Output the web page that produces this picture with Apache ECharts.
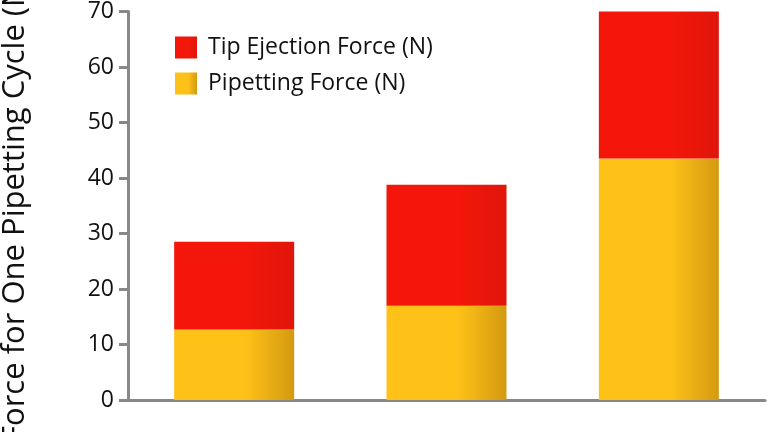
<!DOCTYPE html><html><head><meta charset="utf-8"><script src="https://cdn.jsdelivr.net/npm/echarts@6/dist/echarts.min.js"></script>
<style>body{margin:0}#c{width:768px;height:432px}</style></head><body><div id="c"></div><script>
const categories=['A','B','C'];
const pipetting=[12.7,17.0,43.5];
const ejection=[15.8,21.8,32];
function grad(a,b){return new echarts.graphic.LinearGradient(0,0,1,0,[{offset:0,color:a},{offset:0.6,color:a},{offset:1,color:b}]);}
const ch=echarts.init(document.getElementById('c'));
ch.setOption({
animation:false,
grid:{left:128,right:3,top:1,bottom:32},
legend:{left:170,top:31,orient:'vertical',icon:'rect',itemWidth:22,itemHeight:22,itemGap:13,textStyle:{fontSize:23,fontFamily:'Open Sans',color:'#111',padding:[0,0,0,6]},data:['Tip Ejection Force (N)','Pipetting Force (N)']},
xAxis:{type:'category',data:categories,axisLine:{lineStyle:{color:'#888',width:3}},axisTick:{length:10,lineStyle:{color:'#888',width:3}},axisLabel:{show:false}},
yAxis:{type:'value',min:0,max:70,interval:10,splitLine:{show:false},axisLine:{show:true,lineStyle:{color:'#888',width:3}},axisTick:{show:true,length:9,lineStyle:{color:'#888',width:3}},axisLabel:{fontSize:23,fontFamily:'Open Sans',color:'#111',margin:14}},
graphic:[{type:'text',rotation:Math.PI/2,style:{text:'Force for One Pipetting Cycle (N)',font:'31px "Open Sans"',fill:'#111'},x:0,y:442}],
series:[
{name:'Pipetting Force (N)',type:'bar',stack:'s',barWidth:120,barCategoryGap:'40%',data:pipetting,itemStyle:{color:grad('#FDC118','#D49A10')}},
{name:'Tip Ejection Force (N)',type:'bar',stack:'s',barWidth:120,data:ejection,itemStyle:{color:grad('#F4160A','#E0160A')}}
]});
</script></body></html>
